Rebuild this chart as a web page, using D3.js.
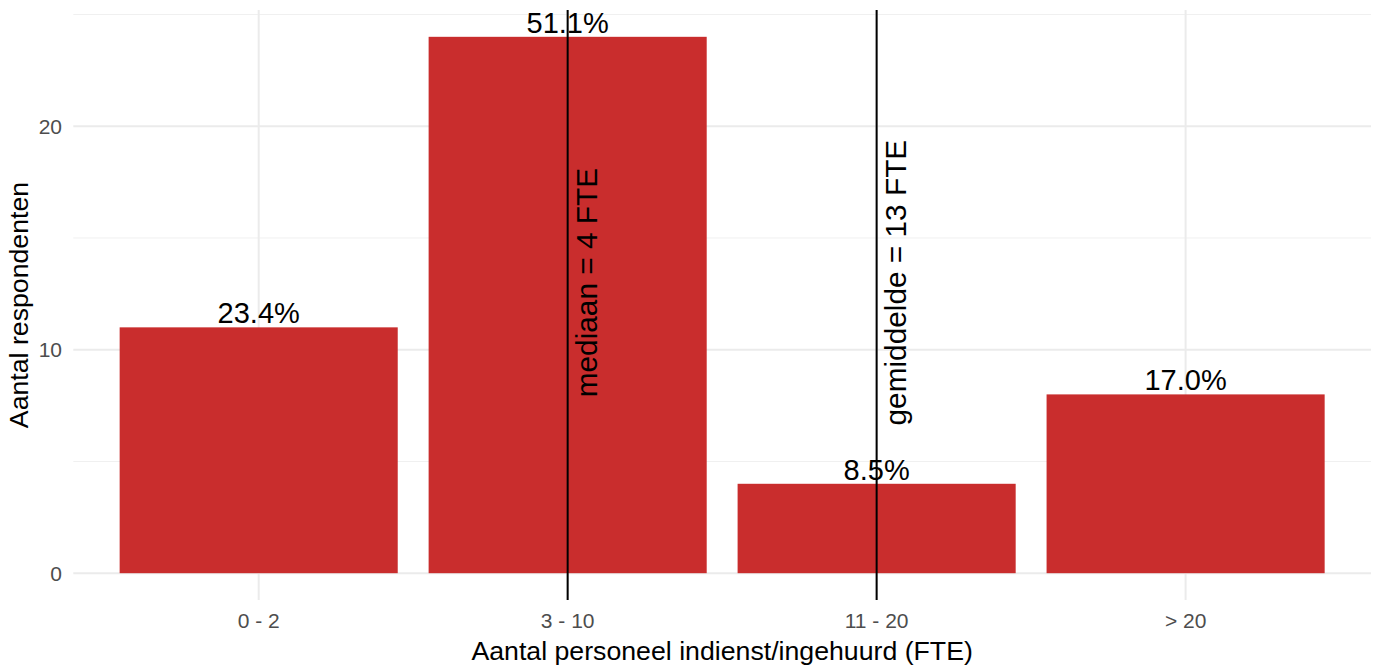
<!DOCTYPE html>
<html>
<head>
<meta charset="utf-8">
<script src="https://cdn.jsdelivr.net/npm/d3@7"></script>
<style>
  html, body { margin: 0; padding: 0; background: #fff; }
  svg { display: block; font-family: "Liberation Sans", Arial, sans-serif; }
</style>
</head>
<body>
<svg id="chart" width="1378" height="669"></svg>
<script>
const categories = ["0 - 2", "3 - 10", "11 - 20", "> 20"];
const counts = [11, 24, 4, 8];
const pctLabels = ["23.4%", "51.1%", "8.5%", "17.0%"];
const yTicks = [0, 10, 20];
const yMinorTicks = [5, 15, 25];
const refCategories = ["3 - 10", "11 - 20"];
const refLabels = ["mediaan = 4 FTE", "gemiddelde = 13 FTE"];
const refLabelY = 13;

const svg = d3.select("#chart");
const panel = { left: 73.3, right: 1371, top: 10, bottom: 600 };

const x = d3.scaleBand().domain(categories)
  .range([panel.left, panel.right]).paddingInner(0.1).paddingOuter(0.15);
const y = d3.scaleLinear().domain([-1.2, 25.2]).range([panel.bottom, panel.top]);
const cx = c => x(c) + x.bandwidth() / 2;

// grid
const g = svg.append("g");
g.selectAll(".minor").data(yMinorTicks).join("line")
  .attr("x1", panel.left).attr("x2", panel.right)
  .attr("y1", d => y(d)).attr("y2", d => y(d))
  .attr("stroke", "#f0f0f0").attr("stroke-width", 1);
g.selectAll(".major").data(yTicks).join("line")
  .attr("x1", panel.left).attr("x2", panel.right)
  .attr("y1", d => y(d)).attr("y2", d => y(d))
  .attr("stroke", "#ebebeb").attr("stroke-width", 2);
g.selectAll(".vgrid").data(categories).join("line")
  .attr("x1", d => cx(d)).attr("x2", d => cx(d))
  .attr("y1", panel.top).attr("y2", panel.bottom)
  .attr("stroke", "#ebebeb").attr("stroke-width", 2);

// bars
svg.append("g").selectAll("rect").data(categories).join("rect")
  .attr("x", d => x(d)).attr("width", x.bandwidth())
  .attr("y", (d, i) => y(counts[i]))
  .attr("height", (d, i) => y(0) - y(counts[i]))
  .attr("fill", "#C92D2D");

// bar labels
svg.append("g").selectAll("text").data(categories).join("text")
  .attr("x", d => cx(d)).attr("y", (d, i) => y(counts[i]) - 4)
  .attr("text-anchor", "middle").attr("font-size", 29).attr("fill", "#000")
  .text((d, i) => pctLabels[i]);

// reference lines
svg.append("g").selectAll("line").data(refCategories).join("line")
  .attr("x1", d => cx(d)).attr("x2", d => cx(d))
  .attr("y1", panel.top).attr("y2", panel.bottom)
  .attr("stroke", "#000").attr("stroke-width", 2);

svg.append("g").selectAll("text").data(refCategories).join("text")
  .attr("transform", d => `translate(${cx(d) + 29},${y(refLabelY)}) rotate(-90)`)
  .attr("text-anchor", "middle").attr("font-size", 29.8).attr("fill", "#000")
  .text((d, i) => refLabels[i]);

// y axis tick labels
svg.append("g").selectAll("text").data(yTicks).join("text")
  .attr("x", 62).attr("y", d => y(d)).attr("dy", "0.36em")
  .attr("text-anchor", "end").attr("font-size", 21).attr("fill", "#4D4D4D")
  .text(d => d);

// x axis tick labels
svg.append("g").selectAll("text").data(categories).join("text")
  .attr("x", d => cx(d)).attr("y", 628)
  .attr("text-anchor", "middle").attr("font-size", 21).attr("fill", "#4D4D4D")
  .text(d => d);

// axis titles
svg.append("text")
  .attr("x", (panel.left + panel.right) / 2).attr("y", 660)
  .attr("text-anchor", "middle").attr("font-size", 26.7).attr("fill", "#000")
  .text("Aantal personeel indienst/ingehuurd (FTE)");
svg.append("text")
  .attr("transform", `translate(27.5,${(panel.top + panel.bottom) / 2}) rotate(-90)`)
  .attr("text-anchor", "middle").attr("font-size", 26.7).attr("fill", "#000")
  .text("Aantal respondenten");
</script>
</body>
</html>
